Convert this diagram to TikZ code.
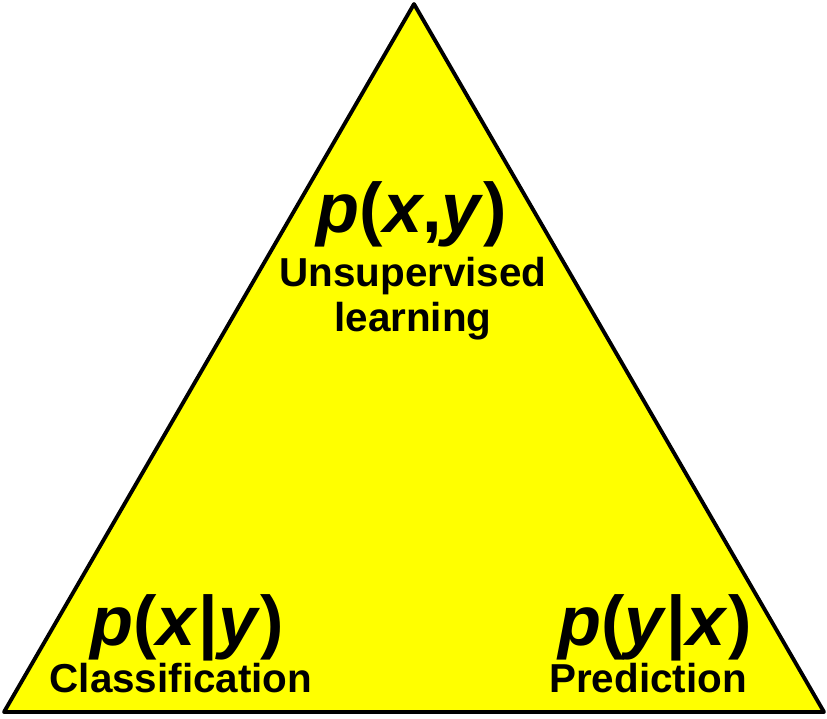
\documentclass[tikz,border=0pt]{standalone}
\usepackage{fontspec}
\setmainfont{Liberation Sans}
\usepackage{xcolor}
\usetikzlibrary{positioning}
\definecolor{triyellow}{RGB}{255,255,0}
\tikzset{formula/.style={font=\fontsize{40}{48}\selectfont\bfseries,inner sep=0pt,anchor=base},
  tasklbl/.style={font=\fontsize{23}{27}\selectfont\bfseries,inner sep=0pt,anchor=base},
  tri/.style={draw=black,fill=triyellow,line width=2.2pt,line join=round}}
\newcommand{\bv}[1]{\textit{#1}}
\begin{document}
\begin{tikzpicture}[x=0.02cm,y=-0.02cm]
\useasboundingbox (0,0) rectangle (827,718);
\coordinate (top) at (414,4);
\coordinate (bl) at (4,712);
\coordinate (br) at (824,712);
\draw[tri] (top)--(bl)--(br)--cycle;
% joint distribution at the apex
\node[formula] (joint) at (412,232) {\bv{p}(\bv{x},\bv{y})};
\node[tasklbl] (uns) at (413,286) {Unsupervised};
\node[tasklbl] (lrn) at (413,331) {learning};
% conditional distributions at the base corners
\node[formula] (cxy) at (187,645) {\bv{p}(\bv{x}|\bv{y})};
\node[tasklbl] (cls) at (181,692) {Classification};
\node[formula] (cyx) at (655,645) {\bv{p}(\bv{y}|\bv{x})};
\node[tasklbl] (prd) at (648,692) {Prediction};
\end{tikzpicture}
\end{document}
